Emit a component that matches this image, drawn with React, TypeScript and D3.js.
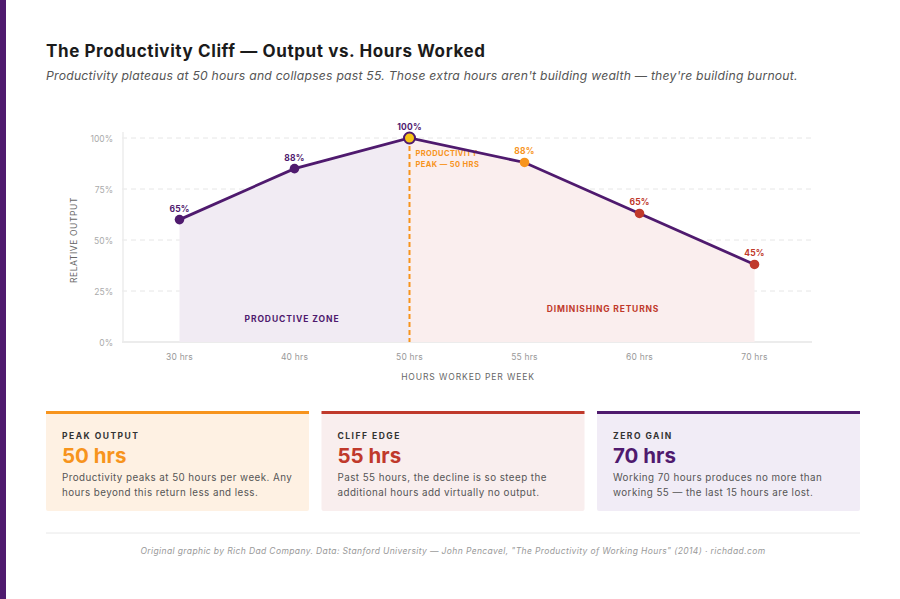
import React, { useRef, useEffect } from "react";
import * as d3 from "d3";

const hours = ["30 hrs", "40 hrs", "50 hrs", "55 hrs", "60 hrs", "70 hrs"];
const output = [60, 85, 100, 88, 63, 38];
const pointLabels = ["65%", "88%", "100%", "88%", "65%", "45%"];
const yTicks = [0, 25, 50, 75, 100];

const PURPLE = "#4f1a6e";
const ORANGE = "#f7941d";
const RED = "#c0392b";
const YELLOW = "#f6c516";
const FONT = "Inter, 'Open Sans', sans-serif";

const cards = [
  { head: "PEAK OUTPUT", big: "50 hrs", lines: ["Productivity peaks at 50 hours per week. Any", "hours beyond this return less and less."], color: ORANGE, bg: "#fef1e3" },
  { head: "CLIFF EDGE", big: "55 hrs", lines: ["Past 55 hours, the decline is so steep the", "additional hours add virtually no output."], color: RED, bg: "#f9eeee" },
  { head: "ZERO GAIN", big: "70 hrs", lines: ["Working 70 hours produces no more than", "working 55 — the last 15 hours are lost."], color: PURPLE, bg: "#f1ecf6" },
];

const App = () => {
  const svgRef = useRef(null);

  useEffect(() => {
    const w = 900, h = 599;
    const svg = d3.select(svgRef.current);
    svg.selectAll("*").remove();

    svg.append("rect").attr("width", w).attr("height", h).attr("fill", "#fff");
    svg.append("rect").attr("width", 6).attr("height", h).attr("fill", PURPLE);

    svg.append("text").attr("x", 46).attr("y", 57).text("The Productivity Cliff — Output vs. Hours Worked")
      .attr("font-family", FONT).attr("font-weight", 700).attr("font-size", 17).attr("letter-spacing", 0.6).attr("fill", "#1b1b1b");
    svg.append("text").attr("x", 46).attr("y", 80)
      .text("Productivity plateaus at 50 hours and collapses past 55. Those extra hours aren't building wealth — they're building burnout.")
      .attr("font-family", FONT).attr("font-style", "italic").attr("font-size", 12.2).attr("letter-spacing", 0.23).attr("fill", "#555");

    const x = d3.scalePoint().domain(hours).range([122, 812]).padding(0.5);
    const y = d3.scaleLinear().domain([0, 100]).range([342, 138]);

    // grid
    const g = svg.append("g");
    yTicks.forEach((t) => {
      g.append("line").attr("x1", 122).attr("x2", 812).attr("y1", y(t)).attr("y2", y(t))
        .attr("stroke", "#e6e6e6").attr("stroke-width", t === 0 ? 1.5 : 1)
        .attr("stroke-dasharray", t === 0 ? null : "5,4");
      g.append("text").attr("x", 113).attr("y", y(t) + 3.5).attr("text-anchor", "end").text(t + "%")
        .attr("font-family", FONT).attr("font-size", 8.5).attr("fill", "#aaa");
    });
    g.append("line").attr("x1", 123).attr("x2", 123).attr("y1", 132).attr("y2", 342).attr("stroke", "#ececec").attr("stroke-width", 1.5);

    const pts = hours.map((hh, i) => ({ h: hh, v: output[i], l: pointLabels[i], i }));
    const area = d3.area().x((d) => x(d.h)).y0(y(0)).y1((d) => y(d.v));
    svg.append("path").attr("d", area(pts.slice(0, 3))).attr("fill", "#f1ebf3");
    svg.append("path").attr("d", area(pts.slice(2))).attr("fill", "#faeeee");

    svg.append("line").attr("x1", x("50 hrs")).attr("x2", x("50 hrs")).attr("y1", y(100)).attr("y2", y(0))
      .attr("stroke", ORANGE).attr("stroke-width", 2).attr("stroke-dasharray", "5,3");

    const lbl = (t, xx, yy, c, size = 8.5, ls = 0) =>
      svg.append("text").attr("x", xx).attr("y", yy).text(t).attr("font-family", FONT)
        .attr("font-weight", 700).attr("font-size", size).attr("letter-spacing", ls).attr("fill", c);

    lbl("PRODUCTIVITY", x("50 hrs") + 6, 156, ORANGE, 7.5, 0.4);
    lbl("PEAK — 50 HRS", x("50 hrs") + 6, 167, ORANGE, 7.5, 0.4);
    lbl("PRODUCTIVE ZONE", 292, 322, PURPLE, 8.5, 0.9).attr("text-anchor", "middle");
    lbl("DIMINISHING RETURNS", 603, 312, RED, 8.5, 0.8).attr("text-anchor", "middle");

    const line = d3.line().x((d) => x(d.h)).y((d) => y(d.v));
    svg.append("path").attr("d", line(pts)).attr("fill", "none").attr("stroke", PURPLE).attr("stroke-width", 2.8);

    const colorOf = (i) => (i < 2 ? PURPLE : i === 2 ? YELLOW : i === 3 ? ORANGE : RED);
    const labelColor = (i) => (i <= 2 ? PURPLE : i === 3 ? ORANGE : RED);
    pts.forEach((d) => {
      svg.append("circle").attr("cx", x(d.h)).attr("cy", y(d.v)).attr("r", d.i === 2 ? 5.5 : 4.8)
        .attr("fill", colorOf(d.i)).attr("stroke", d.i === 2 ? PURPLE : "none").attr("stroke-width", 2);
      lbl(d.l, x(d.h), y(d.v) - 8, labelColor(d.i), 8.5, 0.2).attr("text-anchor", "middle");
    });

    // x ticks
    hours.forEach((hh) => {
      svg.append("text").attr("x", x(hh)).attr("y", 360).attr("text-anchor", "middle").text(hh)
        .attr("font-family", FONT).attr("font-size", 8.5).attr("letter-spacing", 0.2).attr("fill", "#999");
    });
    svg.append("text").attr("x", 468).attr("y", 380).attr("text-anchor", "middle").text("HOURS WORKED PER WEEK")
      .attr("font-family", FONT).attr("font-size", 8.5).attr("letter-spacing", 0.9).attr("fill", "#666");
    svg.append("text").attr("transform", "translate(77,240) rotate(-90)").attr("text-anchor", "middle").text("RELATIVE OUTPUT")
      .attr("font-family", FONT).attr("font-size", 8.5).attr("letter-spacing", 0.6).attr("fill", "#666");

    // cards
    const cw = 263, cx0 = 46, gap = 12.5;
    cards.forEach((c, i) => {
      const cx = cx0 + i * (cw + gap);
      const cg = svg.append("g").attr("transform", `translate(${cx},411)`);
      cg.append("rect").attr("width", cw).attr("height", 100).attr("rx", 2).attr("fill", c.bg);
      cg.append("rect").attr("width", cw).attr("height", 3).attr("fill", c.color);
      cg.append("text").attr("x", 16).attr("y", 28).text(c.head).attr("font-family", FONT).attr("font-weight", 700)
        .attr("font-size", 8.5).attr("letter-spacing", 1.5).attr("fill", "#333");
      cg.append("text").attr("x", 16).attr("y", 52).text(c.big).attr("font-family", FONT).attr("font-weight", 700)
        .attr("font-size", 20.5).attr("fill", c.color);
      c.lines.forEach((ln, j) => {
        cg.append("text").attr("x", 16).attr("y", 70 + j * 14.5).text(ln).attr("font-family", FONT)
          .attr("font-size", 9.8).attr("letter-spacing", 0.45).attr("fill", "#555");
      });
    });

    svg.append("line").attr("x1", 46).attr("x2", 860).attr("y1", 533).attr("y2", 533).attr("stroke", "#e8e8e8");
    svg.append("text").attr("x", 453).attr("y", 554).attr("text-anchor", "middle")
      .text("Original graphic by Rich Dad Company. Data: Stanford University — John Pencavel, \"The Productivity of Working Hours\" (2014) · richdad.com")
      .attr("font-family", FONT).attr("font-style", "italic").attr("font-size", 8.5).attr("letter-spacing", 0.38).attr("fill", "#999");
  }, []);

  return (
    <svg ref={svgRef} width={900} height={599} style={{ position: "absolute", left: 0, top: 0, display: "block" }}></svg>
  );
};

export default App;
